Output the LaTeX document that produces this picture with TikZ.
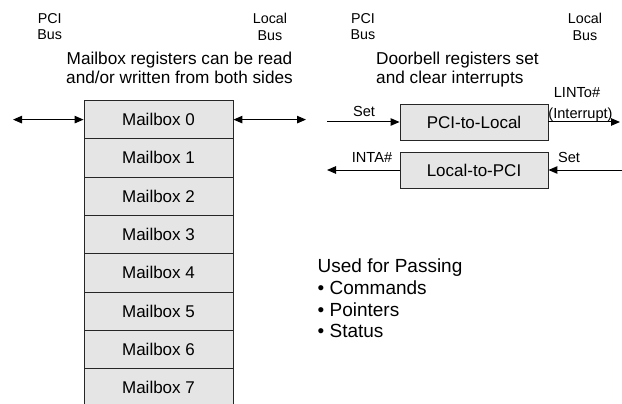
\documentclass[tikz,border=0pt]{standalone}
\usepackage{fontspec}
\setmainfont{Liberation Sans}
\usetikzlibrary{arrows.meta}
\begin{document}
\begin{tikzpicture}[x=1pt,y=-1pt,
  reg/.style={draw=black!85, fill=black!10, line width=0.9pt, minimum width=149pt, minimum height=38.3pt, inner sep=0pt, font=\fontsize{17}{19}\selectfont},
  bell/.style={draw=black!85, fill=black!10, line width=0.9pt, minimum width=148pt, minimum height=36pt, inner sep=0pt, font=\fontsize{17}{19}\selectfont},
  bus/.style={font=\fontsize{14.3}{16.6}\selectfont, align=center, inner sep=0pt, anchor=north},
  captext/.style={font=\fontsize{17.2}{19}\selectfont, inner sep=0pt, anchor=north},
  lbl/.style={font=\fontsize{14.6}{16}\selectfont, inner sep=0pt, anchor=base},
  arr/.style={line width=1pt, -{Triangle[length=9pt,width=7.5pt]}},
  darr/.style={line width=1pt, {Triangle[length=9pt,width=7.5pt]}-{Triangle[length=9pt,width=7.5pt]}}]
\useasboundingbox (0,0) rectangle (622,404);
\begin{scope}
\clip (0,0) rectangle (622,404);
\foreach \i in {0,...,7} {
  \node[reg] (mb\i) at (158.5,{119.6+38.3*\i}) {Mailbox \i};
}
\end{scope}
\node[bus] (pci1) at (49.7,13) {PCI\\Bus};
\node[bus] (loc1) at (270,13) {Local\\Bus};
\node[captext, align=center] (capL) at (179.5,51.7) {Mailbox registers can be read\\and/or written from both sides};
\coordinate (la) at (13,119.6);
\coordinate (ra) at (306,119.6);
\draw[darr] (la) -- (mb0.west);
\draw[darr] (mb0.east) -- (ra);

\node[bus] (pci2) at (363,13) {PCI\\Bus};
\node[bus] (loc2) at (585,13) {Local\\Bus};
\node[captext, align=left, anchor=north west] (capR) at (376,52) {Doorbell registers set\\and clear interrupts};
\node[bell] (p2l) at (474,122) {PCI-to-Local};
\node[bell] (l2p) at (474,170) {Local-to-PCI};
\coordinate (s1) at (327,122);
\coordinate (lint) at (620,122);
\coordinate (inta) at (327,170);
\coordinate (s2) at (622,170);
\draw[arr] (s1) -- (p2l.west);
\draw[arr] (p2l.east) -- (lint);
\draw[arr] (l2p.west) -- (inta);
\draw[arr] (s2) -- (l2p.east);
\node[lbl] (lset1) at (364,117) {Set};
\node[lbl] (llint) at (577,98) {LINTo\#};
\node[lbl] (lint2) at (580.5,118.3) {(Interrupt)};
\node[lbl] (linta) at (372,162) {INTA\#};
\node[lbl] (lset2) at (569,163) {Set};

\node[align=left, anchor=north west, inner sep=0pt, font=\fontsize{19}{21.6}\selectfont] (used) at (317.5,259) {Used for Passing\\\textbullet\ Commands\\\textbullet\ Pointers\\\textbullet\ Status};
\end{tikzpicture}
\end{document}
